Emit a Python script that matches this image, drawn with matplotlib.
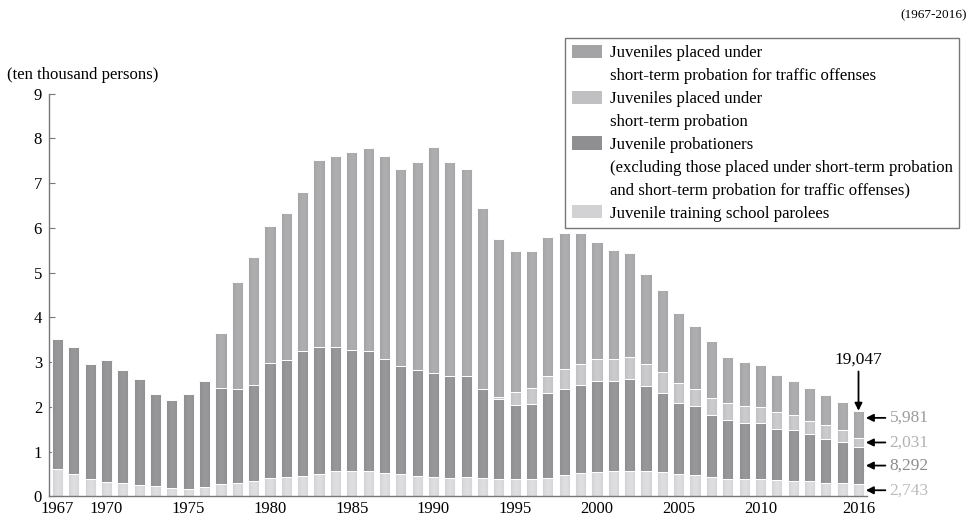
import numpy as np
import matplotlib
matplotlib.use("Agg")
import matplotlib.pyplot as plt
from matplotlib.patches import Patch
from matplotlib.colors import to_rgb

# values in ten thousand persons
years = list(range(1967, 2017))
parolees = [0.62, 0.51, 0.40, 0.33, 0.30, 0.25, 0.23, 0.19, 0.17, 0.22,
            0.28, 0.31, 0.34, 0.41, 0.43, 0.46, 0.50, 0.57, 0.57, 0.57,
            0.53, 0.49, 0.46, 0.43, 0.42, 0.43, 0.42, 0.40, 0.39, 0.39,
            0.42, 0.48, 0.52, 0.55, 0.57, 0.57, 0.57, 0.55, 0.50, 0.48,
            0.43, 0.40, 0.39, 0.39, 0.36, 0.34, 0.34, 0.31, 0.30, 0.2743]
probationers = [2.90, 2.83, 2.57, 2.72, 2.52, 2.38, 2.05, 1.96, 2.12, 2.37,
                2.14, 2.10, 2.16, 2.57, 2.61, 2.79, 2.85, 2.78, 2.70, 2.67,
                2.53, 2.42, 2.36, 2.33, 2.26, 2.27, 1.99, 1.77, 1.65, 1.67,
                1.88, 1.92, 1.96, 2.04, 2.02, 2.05, 1.89, 1.75, 1.59, 1.53,
                1.38, 1.30, 1.24, 1.24, 1.15, 1.14, 1.05, 0.98, 0.92, 0.8292]
short_term = [0] * 27 + [0.06, 0.29, 0.36,
                         0.40, 0.44, 0.47, 0.47, 0.47, 0.50, 0.49, 0.47, 0.44, 0.40,
                         0.40, 0.39, 0.39, 0.37, 0.38, 0.34, 0.29, 0.31, 0.26, 0.2031]
traffic = [0] * 10 + [1.23, 2.39, 2.84, 3.06, 3.30, 3.55, 4.17, 4.26, 4.43, 4.54,
                      4.54, 4.40, 4.66, 5.04, 4.79, 4.62, 4.04, 3.53, 3.15, 3.07,
                      3.10, 3.04, 2.94, 2.62, 2.45, 2.31, 2.02, 1.85, 1.58, 1.40,
                      1.26, 1.03, 0.98, 0.94, 0.82, 0.77, 0.74, 0.66, 0.62, 0.5981]
last_labels = ["2,743", "8,292", "2,031", "5,981"]
total_label = "19,047"
year_ticks = [1967, 1970, 1975, 1980, 1985, 1990, 1995, 2000, 2005, 2010, 2016]

plt.rcParams["font.family"] = ["Liberation Serif", "DejaVu Serif"]

series = [parolees, probationers, short_term, traffic]
colors = ["#d2d2d4", "#8f8f91", "#c0c0c2", "#a4a4a6"]
text_colors = ["#bcbcbc", "#8c8c8c", "#b2b2b2", "#9c9c9c"]

fig = plt.figure(figsize=(9.7, 5.21), dpi=100)
ax = fig.add_axes([49 / 970, 1 - 496.4 / 521, 818 / 970, 402.7 / 521])

x = np.array(years)
bottom = np.zeros(len(years))
containers = []
for vals, c in zip(series, colors):
    vals = np.array(vals, dtype=float)
    bc = ax.bar(x, vals, width=0.68, bottom=bottom, color=c,
                edgecolor="white", linewidth=0.7, zorder=2)
    containers.append((bc, c))
    bottom = bottom + vals

# cylinder-like shading on each bar segment, clipped to the bar shape
t = np.linspace(0, 1, 32)
shade = 0.9 + 0.16 * np.sin(np.pi * (t * 0.85 + 0.05)) ** 0.7
for bc, c in containers:
    rgb = np.array(to_rgb(c))
    img = np.clip(rgb[None, None, :] * shade[None, :, None], 0, 1)
    for p in bc.patches:
        if p.get_height() <= 0:
            p.set_visible(False)
            continue
        x0, y0, w, h = p.get_x(), p.get_y(), p.get_width(), p.get_height()
        im = ax.imshow(img, extent=(x0 - 0.05, x0 + w + 0.05, y0 - 0.05, y0 + h + 0.05),
                       aspect="auto", interpolation="bilinear", zorder=2.5)
        im.set_clip_path(p)
        p.set_facecolor("none")
        p.set_zorder(3)

ax.set_xlim(1966.48, 2016.52)
ax.set_ylim(0, 9)
ax.set_yticks(range(10))
ax.set_xticks(year_ticks)
ax.tick_params(axis="y", direction="in", length=4, color="#777777",
               labelsize=12, pad=5)
ax.tick_params(axis="x", length=0, labelsize=12, pad=3)
for s in ["top", "right"]:
    ax.spines[s].set_visible(False)
for s in ["left", "bottom"]:
    ax.spines[s].set_color("#777777")
    ax.spines[s].set_linewidth(1.0)
    ax.spines[s].set_zorder(4)

# annotations for the last year
tot = bottom[-1]
ax.annotate(total_label, xy=(2016, tot + 0.01), xytext=(2016, tot + 0.98),
            ha="center", va="bottom", fontsize=12.5, annotation_clip=False,
            arrowprops=dict(arrowstyle="-|>", color="black", lw=1.3,
                            mutation_scale=11, shrinkA=1, shrinkB=0))
cum = 0
for i, vals in enumerate(series):
    v = vals[-1]
    y = cum + v / 2 if i < 3 else cum + v * 0.75
    cum += v
    ax.annotate(last_labels[i], xy=(2016.45, y), xytext=(2017.9, y),
                ha="left", va="center", fontsize=12.5, color=text_colors[i],
                annotation_clip=False,
                arrowprops=dict(arrowstyle="-|>", color="black", lw=1.3,
                                mutation_scale=11, shrinkA=1, shrinkB=0))

# legend (multi-line labels split into rows so swatch sits at first line)
blank = Patch(facecolor="none", edgecolor="none")
handles = [Patch(facecolor=colors[3]), blank,
           Patch(facecolor=colors[2]), blank,
           Patch(facecolor=colors[1]), blank, blank,
           Patch(facecolor=colors[0])]
labels = ["Juveniles placed under",
          "short-term probation for traffic offenses",
          "Juveniles placed under",
          "short-term probation",
          "Juvenile probationers",
          "(excluding those placed under short-term probation",
          "and short-term probation for traffic offenses)",
          "Juvenile training school parolees"]
leg = fig.legend(handles, labels, loc="upper left",
                 bbox_to_anchor=(565 / 970, 1 - 38 / 521), borderaxespad=0,
                 fontsize=12.1, frameon=True, fancybox=False,
                 edgecolor="#555555", handlelength=1.8, handleheight=0.85,
                 handletextpad=0.45, labelspacing=0.38, borderpad=0.4)
leg.get_frame().set_linewidth(1.0)

fig.text(7 / 970, 1 - 75 / 521, "(ten thousand persons)", fontsize=12.1,
         ha="left", va="center")
fig.text(967 / 970, 1 - 15 / 521, "(1967-2016)", fontsize=9.5,
         ha="right", va="center")

fig.savefig("out.png", dpi=100)
